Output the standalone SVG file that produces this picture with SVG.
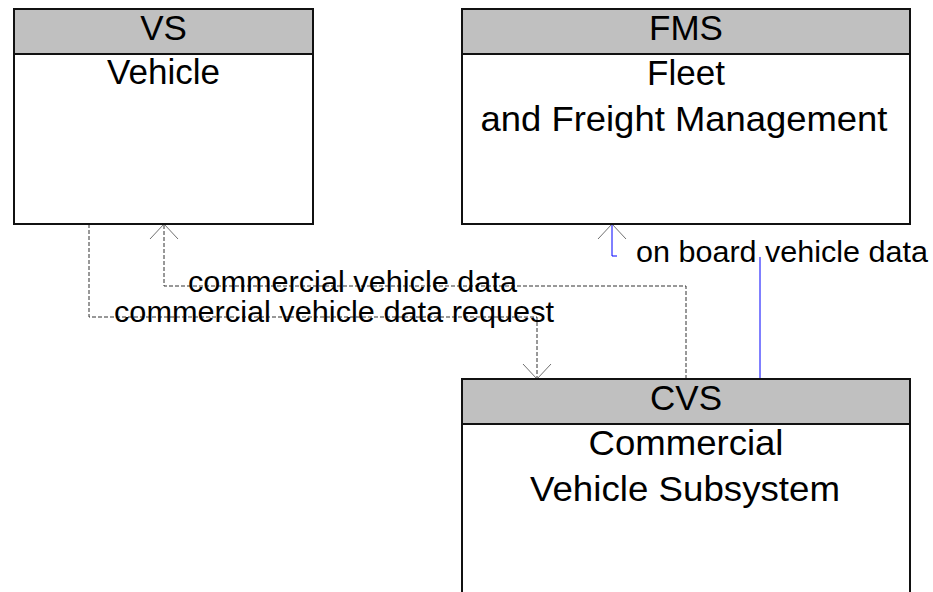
<svg xmlns="http://www.w3.org/2000/svg" width="933" height="592" viewBox="0 0 933 592">
<style>
.box{fill:#fff;stroke:#111;stroke-width:2}
.hdr{fill:#c0c0c0;stroke:#111;stroke-width:2}
.nt{font-family:"Liberation Sans",Arial,sans-serif;font-size:35px;fill:#000;text-anchor:middle}
.lt{font-family:"Liberation Sans",Arial,sans-serif;font-size:29px;fill:#000}
.dash{fill:none;stroke:#333;stroke-width:1;stroke-dasharray:4 2}
.blue{fill:none;stroke:#0000ff;stroke-width:1}
.ah{fill:none;stroke:#707070;stroke-width:1}
</style>
<rect width="933" height="592" fill="#fff"/>
<g id="connectors">
  <g id="c-request">
    <path class="dash" d="M89 224 V317 H537 V379"/>
    <path class="ah" d="M523 364 L537 379 L551 364"/>
    <text class="lt" x="114" y="322" textLength="440" lengthAdjust="spacingAndGlyphs">commercial vehicle data request</text>
  </g>
  <g id="c-data">
    <path class="dash" d="M686 379 V286 H164 V224"/>
    <path class="ah" d="M150 239 L164 224 L178 239"/>
    <text class="lt" x="188" y="292" textLength="329" lengthAdjust="spacingAndGlyphs">commercial vehicle data</text>
  </g>
  <g id="c-onboard">
    <path class="blue" d="M760 379 V256 H612 V224"/>
    <path class="ah" d="M598 239 L612 224 L626 239"/>
    <rect x="617" y="240" width="316" height="17" fill="#fff"/>
    <text class="lt" x="636" y="262" textLength="292" lengthAdjust="spacingAndGlyphs">on board vehicle data</text>
  </g>
</g>
<g id="VS">
  <rect class="box" x="14" y="9" width="299" height="215"/>
  <rect class="hdr" x="14" y="9" width="299" height="45"/>
  <text class="nt" x="163.5" y="40">VS</text>
  <text class="nt" x="163.5" y="84">Vehicle</text>
</g>
<g id="FMS">
  <rect class="box" x="462" y="9" width="448" height="215"/>
  <rect class="hdr" x="462" y="9" width="448" height="45"/>
  <text class="nt" x="686" y="40">FMS</text>
  <text class="nt" x="686" y="85">Fleet</text>
  <text class="nt" x="684" y="131" textLength="407" lengthAdjust="spacingAndGlyphs">and Freight Management</text>
</g>
<g id="CVS">
  <rect class="box" x="462" y="379" width="448" height="220"/>
  <rect class="hdr" x="462" y="379" width="448" height="45"/>
  <text class="nt" x="686" y="410">CVS</text>
  <text class="nt" x="686" y="455" textLength="195" lengthAdjust="spacingAndGlyphs">Commercial</text>
  <text class="nt" x="685" y="501" textLength="310" lengthAdjust="spacingAndGlyphs">Vehicle Subsystem</text>
</g>
</svg>
